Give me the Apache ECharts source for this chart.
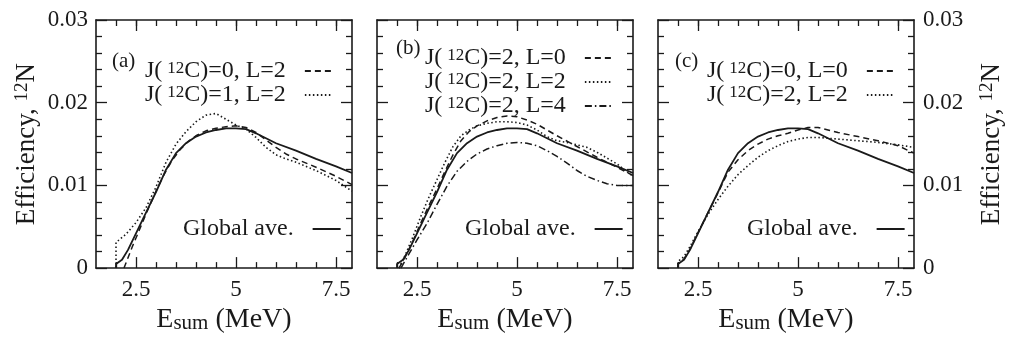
<!DOCTYPE html>
<html>
<head>
<meta charset="utf-8">
<script src="https://cdn.jsdelivr.net/npm/echarts@6/dist/echarts.min.js"></script>
<style>
  html, body { margin: 0; padding: 0; background: #fff; }
  #wrap { position: relative; width: 1009px; height: 339px; }
  .panel { position: absolute; left: 0; top: 0; width: 1009px; height: 339px; }
</style>
</head>
<body>
<div id="wrap">
  <div id="pa" class="panel"></div>
  <div id="pb" class="panel"></div>
  <div id="pc" class="panel"></div>
</div>
<script>
const FONT = '"Liberation Serif", "DejaVu Serif", "Times New Roman", serif';
const INK = '#1a1a1a';

// axes
const X_MIN = 1.5;
const X_MAX = 7.9;
const X_MAJOR = [2.5, 5, 7.5];
const X_MINOR = [2, 3, 3.5, 4, 4.5, 5.5, 6, 6.5, 7];
const Y_MAX = 0.03;

// curves, [E_sum (MeV), efficiency]
const globalAve = [[2.0, 0], [2.0, 0.0005], [2.15, 0.0010], [2.3, 0.0022], [2.5, 0.0042], [2.75, 0.0067],
  [3.0, 0.0092], [3.25, 0.0119], [3.5, 0.0139], [3.75, 0.0151], [4.0, 0.0159], [4.25, 0.0164], [4.5, 0.0167],
  [4.75, 0.0169], [5.0, 0.0169], [5.25, 0.0168], [5.5, 0.0163], [5.75, 0.0157], [6.0, 0.0151], [6.5, 0.0142],
  [7.0, 0.0132], [7.5, 0.0123], [7.9, 0.0115]];

const aJ0L2 = [[2.2, 0], [2.4, 0.0025], [2.6, 0.0048], [2.8, 0.0071], [3.0, 0.0093], [3.2, 0.0113], [3.4, 0.0130],
  [3.6, 0.0143], [3.8, 0.0153], [4.0, 0.0160], [4.25, 0.0166], [4.5, 0.0169], [4.75, 0.0171], [5.0, 0.0172],
  [5.25, 0.0170], [5.5, 0.0164], [5.75, 0.0155], [6.0, 0.0146], [6.25, 0.0138], [6.5, 0.0132], [7.0, 0.0122],
  [7.5, 0.0111], [7.9, 0.0101]];

const aJ1L2 = [[2.0, 0], [2.0, 0.0031], [2.25, 0.0041], [2.5, 0.0055], [2.75, 0.0073], [3.0, 0.0098], [3.25, 0.0128],
  [3.5, 0.0150], [3.75, 0.0165], [4.0, 0.0177], [4.25, 0.0185], [4.5, 0.0187], [4.75, 0.0180], [5.0, 0.0173],
  [5.25, 0.0168], [5.5, 0.0158], [5.75, 0.0146], [6.0, 0.0137], [6.25, 0.0132], [6.5, 0.0128], [7.0, 0.0118],
  [7.5, 0.0106], [7.9, 0.0093]];

const bJ2L0 = [[2.05, 0], [2.2, 0.0013], [2.4, 0.0033], [2.6, 0.0055], [2.8, 0.0076], [3.0, 0.0096], [3.2, 0.0117],
  [3.4, 0.0137], [3.6, 0.0154], [3.8, 0.0165], [4.0, 0.0172], [4.25, 0.0178], [4.5, 0.0182], [4.75, 0.0184],
  [5.0, 0.0183], [5.25, 0.0179], [5.5, 0.0174], [5.75, 0.0167], [6.0, 0.0160], [6.5, 0.0147], [7.0, 0.0134],
  [7.5, 0.0122], [7.9, 0.0112]];

const bJ2L2 = [[2.05, 0], [2.2, 0.0015], [2.4, 0.0038], [2.6, 0.0063], [2.8, 0.0086], [3.0, 0.0107], [3.2, 0.0128],
  [3.4, 0.0147], [3.6, 0.0160], [3.8, 0.0167], [4.0, 0.0172], [4.25, 0.0175], [4.5, 0.0177], [4.75, 0.0177],
  [5.0, 0.0176], [5.25, 0.0173], [5.5, 0.0167], [5.75, 0.0159], [6.0, 0.0154], [6.25, 0.0152], [6.5, 0.0149],
  [6.75, 0.0146], [7.0, 0.0140], [7.5, 0.0126], [7.9, 0.0111]];

const bJ2L4 = [[2.1, 0], [2.25, 0.0013], [2.5, 0.0034], [2.75, 0.0054], [3.0, 0.0077], [3.25, 0.0099], [3.5, 0.0117],
  [3.75, 0.0129], [4.0, 0.0138], [4.25, 0.0144], [4.5, 0.0148], [4.75, 0.0151], [5.0, 0.0152], [5.25, 0.0151],
  [5.5, 0.0148], [5.75, 0.0142], [6.0, 0.0135], [6.25, 0.0127], [6.5, 0.0118], [6.75, 0.0111], [7.0, 0.0106],
  [7.25, 0.0102], [7.5, 0.0100], [7.9, 0.0100]];

const cJ0L0 = [[2.0, 0], [2.0, 0.0005], [2.15, 0.0011], [2.3, 0.0023], [2.5, 0.0043], [2.75, 0.0067], [3.0, 0.0091],
  [3.25, 0.0116], [3.5, 0.0131], [3.75, 0.0142], [4.0, 0.0150], [4.25, 0.0156], [4.5, 0.0160], [4.75, 0.0163],
  [5.0, 0.0167], [5.25, 0.0170], [5.5, 0.0170], [5.75, 0.0167], [6.0, 0.0164], [6.5, 0.0159], [7.0, 0.0154],
  [7.5, 0.0148], [7.9, 0.0139]];

const cJ2L2 = [[2.0, 0], [2.0, 0.0008], [2.15, 0.0014], [2.3, 0.0026], [2.5, 0.0044], [2.75, 0.0065], [3.0, 0.0083],
  [3.25, 0.0099], [3.5, 0.0113], [3.75, 0.0124], [4.0, 0.0134], [4.25, 0.0142], [4.5, 0.0148], [4.75, 0.0153],
  [5.0, 0.0156], [5.25, 0.0158], [5.5, 0.0158], [5.75, 0.0157], [6.0, 0.0156], [6.5, 0.0154], [7.0, 0.0152],
  [7.5, 0.0149], [7.9, 0.0146]];

const GLOBAL_NAME = 'Global ave.';

const panels = [
  { el: 'pa', tag: '(a)', left: 96, tagPos: [112, 51], legendPos: [145, 59], globalLeft: 183,
    yLabel: 'left', curves: [['J(12C)=0, L=2', aJ0L2, 'dash'], ['J(12C)=1, L=2', aJ1L2, 'dot']] },
  { el: 'pb', tag: '(b)', left: 377, tagPos: [396, 38], legendPos: [425, 46], globalLeft: 465,
    yLabel: null, curves: [['J(12C)=2, L=0', bJ2L0, 'dash'], ['J(12C)=2, L=2', bJ2L2, 'dot'], ['J(12C)=2, L=4', bJ2L4, 'dashDot']] },
  { el: 'pc', tag: '(c)', left: 658, tagPos: [675, 51], legendPos: [707, 59], globalLeft: 747,
    yLabel: 'right', curves: [['J(12C)=0, L=0', cJ0L0, 'dash'], ['J(12C)=2, L=2', cJ2L2, 'dot']] }
];

const W = 256;
const H = 257;

const lineTypes = {
  solid: { type: 'solid', width: 1.8 },
  dash: { type: [6, 4], width: 1.5 },
  dot: { type: [1.5, 2.5], width: 1.6 },
  dashDot: { type: [7, 3, 1.5, 3], width: 1.5 }
};

const titleRich = {
  t: { fontFamily: FONT, fontSize: 27, color: INK },
  s: { fontFamily: FONT, fontSize: 19, color: INK, verticalAlign: 'top', lineHeight: 16 }
};
const xNameRich = {
  t: { fontFamily: FONT, fontSize: 28, color: INK },
  b: { fontFamily: FONT, fontSize: 21, color: INK, verticalAlign: 'bottom', lineHeight: 14 }
};
const yName = '{t|Efficiency, }{s|12}{t|N}';

const frameLine = { show: true, onZero: false, lineStyle: { color: INK, width: 1.6 } };
const noLine = { show: false, onZero: false };
const tickLine = { color: INK, width: 1.3 };
// tick-only axes keep one blank label so their ticks still get drawn
const blankX = { show: true, customValues: [X_MIN], formatter: () => ' ' };
const blankY = { show: true, customValues: [0], formatter: () => ' ' };

// one chart per panel, all stacked on the same 1009x339 area
function panelOption(p) {
  const grid = [{ left: p.left, top: 20, width: W, height: H }];
  const xAxis = [];
  const yAxis = [];

  const xBase = {
    gridIndex: 0, type: 'value', min: X_MIN, max: X_MAX,
    splitLine: { show: false }, axisLabel: blankX, axisLine: noLine
  };
  const xTicks = (values, len) => ({ show: true, inside: true, length: len, customValues: values, lineStyle: tickLine });
  xAxis.push({
    ...xBase, position: 'bottom', axisLine: frameLine, axisTick: xTicks(X_MAJOR, 11),
    axisLabel: { show: true, customValues: X_MAJOR, margin: 10, fontFamily: FONT, fontSize: 23, color: INK },
    name: '{t|E}{b|sum}{t| (MeV)}', nameLocation: 'middle', nameGap: 28,
    nameTextStyle: { fontFamily: FONT, rich: xNameRich }
  });
  xAxis.push({ ...xBase, position: 'bottom', axisTick: xTicks(X_MINOR, 6) });
  xAxis.push({ ...xBase, position: 'top', axisLine: frameLine, axisTick: xTicks(X_MAJOR.concat(X_MINOR), 6) });
  xAxis.push({ ...xBase, position: 'top', axisTick: xTicks(X_MAJOR, 11) });

  const yBase = {
    gridIndex: 0, type: 'value', min: 0, max: Y_MAX, interval: 0.01,
    splitLine: { show: false }, axisLabel: blankY, axisTick: { show: false }, axisLine: noLine
  };
  const yTicks = {
    axisTick: { show: true, length: 11, lineStyle: tickLine },
    minorTick: { show: true, splitNumber: 5, length: 6, lineStyle: tickLine }
  };
  ['left', 'right'].forEach((side) => {
    const frameAxis = { ...yBase, position: side, axisLine: frameLine, axisLabel: { show: false } };
    if (p.yLabel === side) {
      Object.assign(frameAxis, {
        axisLabel: { show: true, margin: side === 'left' ? 8 : 9, fontFamily: FONT, fontSize: 23, color: INK },
        name: yName, nameLocation: 'middle', nameRotate: 90,
        nameGap: side === 'left' ? 56 : 64,
        nameTextStyle: { fontFamily: FONT, rich: titleRich }
      });
    }
    yAxis.push(frameAxis);
    // sits on this frame from the opposite side, so its outward ticks point into the plot
    yAxis.push({ ...yBase, ...yTicks, position: side === 'left' ? 'right' : 'left', offset: -W });
  });

  // all axes of the panel share one range, so the curves are spread over them
  const bind = [[0, 1], [1, 3], [2, 0], [3, 2]];
  const all = [[GLOBAL_NAME, globalAve, 'solid']].concat(p.curves);
  const series = all.map(([name, data, kind], k) => ({
    type: 'line', name, xAxisIndex: bind[k][0], yAxisIndex: bind[k][1], data,
    symbol: 'none', lineStyle: { color: INK, ...lineTypes[kind] }, itemStyle: { color: INK, opacity: 0 },
    z: kind === 'solid' ? 3 : 2
  }));

  const legendText = {
    fontFamily: FONT, fontSize: 24, color: INK, lineHeight: 22, padding: [0, 14, 0, 0],
    rich: { s: { fontFamily: FONT, fontSize: 17, color: INK, verticalAlign: 'top', lineHeight: 13 } }
  };
  const legendBase = {
    orient: 'vertical', align: 'right', padding: 0, itemGap: 0, itemWidth: 28, itemHeight: 14,
    selectedMode: false, itemStyle: { opacity: 0 }, textStyle: legendText
  };
  const legend = [
    { ...legendBase, data: p.curves.map((c) => c[0]), left: p.legendPos[0], top: p.legendPos[1],
      formatter: (name) => name.replace('(12', '(\u2009{s|12}') },
    { ...legendBase, data: [GLOBAL_NAME], left: p.globalLeft, top: 217 }
  ];

  const title = [{
    text: p.tag, left: p.tagPos[0], top: p.tagPos[1], padding: 0,
    textStyle: { fontFamily: FONT, fontSize: 21, fontWeight: 'normal', color: INK }
  }];

  return {
    animation: false,
    textStyle: { fontFamily: FONT, color: INK },
    title, grid, xAxis, yAxis, legend, series
  };
}

const charts = panels.map((p) => {
  const chart = echarts.init(document.getElementById(p.el));
  chart.setOption(panelOption(p));
  return chart;
});

if (document.fonts && document.fonts.ready) {
  document.fonts.ready.then(() => charts.forEach((chart) => chart.resize()));
}
</script>
</body>
</html>
